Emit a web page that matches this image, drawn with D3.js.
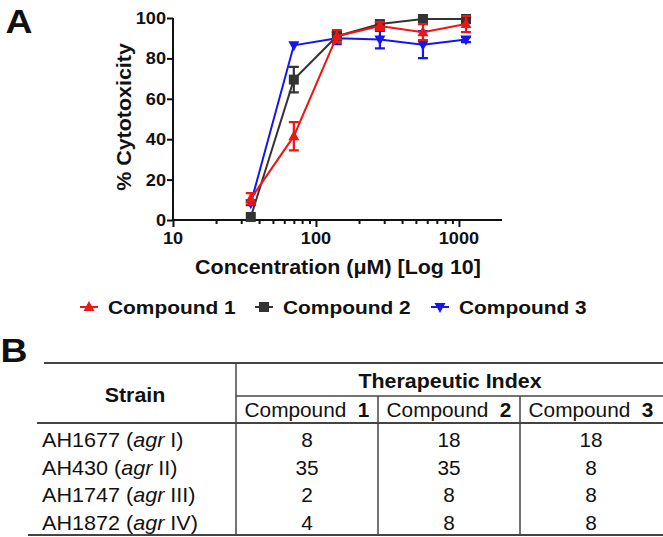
<!DOCTYPE html>
<html>
<head>
<meta charset="utf-8">
<script src="https://cdn.jsdelivr.net/npm/d3@7"></script>
<style>
  html, body { margin: 0; padding: 0; background: #fff; }
  svg { display: block; }
  text { font-family: "Liberation Sans", Arial, sans-serif; fill: #111; }
</style>
</head>
<body>
<svg id="chart" width="663" height="537"></svg>
<script>
// ---------------- DATA ----------------
const concentrations = [35, 70, 140, 280, 560, 1120];
const compound1 = [10.5, 41.5, 91, 96, 93, 97];
const compound1Err = [2.8, 7, 3, 2, 4, 4];
const compound2 = [1.5, 69.5, 91, 97, 99.5, 99.5];
const compound2Err = [0, 6.3, 2, 1, 0.5, 0.5];
const compound3 = [8.3, 86.5, 90, 89.3, 86.8, 89.3];
const compound3Err = [1, 0.5, 3, 4.3, 6.7, 1.2];
const seriesNames = ["Compound 1", "Compound 2", "Compound 3"];
const yTicks = [0, 20, 40, 60, 80, 100];
const xMajorTicks = [10, 100, 1000];
const xMinorTicks = [20, 30, 40, 50, 60, 70, 80, 90, 200, 300, 400, 500, 600, 700, 800, 900];

const strains = ["AH1677", "AH430", "AH1747", "AH1872"];
const agrGroups = ["I", "II", "III", "IV"];
const tiCompound1 = [8, 35, 2, 4];
const tiCompound2 = [18, 35, 8, 8];
const tiCompound3 = [18, 8, 8, 8];
const compoundNumbers = ["1", "2", "3"];

// ---------------- SETUP ----------------
const svg = d3.select("#chart");
const SX = 1.1; // horizontal text stretch seen in the reference
function txt(g, x, y, s, opts = {}) {
  const t = g.append("text")
    .attr("transform", `translate(${x},${y})` + (opts.rotate ? ` rotate(${opts.rotate})` : "") + ` scale(${opts.sx || SX},1)`)
    .attr("text-anchor", opts.anchor || "middle")
    .attr("font-size", opts.size || 17)
    .attr("font-weight", opts.bold ? "bold" : "normal");
  if (s !== null) t.text(s);
  return t;
}

const x = d3.scaleLog().domain([10, 2000]).range([173, 502]);
const y = d3.scaleLinear().domain([0, 100]).range([220, 18]);

const colors = ["#f01515", "#333333", "#1515f0"];
const series = [
  { name: seriesNames[0], vals: compound1, err: compound1Err, color: colors[0], sym: "up" },
  { name: seriesNames[1], vals: compound2, err: compound2Err, color: colors[1], sym: "sq" },
  { name: seriesNames[2], vals: compound3, err: compound3Err, color: colors[2], sym: "down" }
];

function marker(g, cx, cy, sym, color) {
  if (sym === "sq") {
    g.append("rect").attr("x", cx - 5).attr("y", cy - 5).attr("width", 10).attr("height", 10).attr("fill", color);
  } else if (sym === "up") {
    g.append("path").attr("d", `M${cx},${cy - 6} L${cx + 5.5},${cy + 4} L${cx - 5.5},${cy + 4} Z`).attr("fill", color);
  } else {
    g.append("path").attr("d", `M${cx},${cy + 6} L${cx + 5.5},${cy - 4} L${cx - 5.5},${cy - 4} Z`).attr("fill", color);
  }
}

// Panel label A
txt(svg, 19, 33, "A", { size: 34, bold: true });

// Axes
const gx = svg.append("g").attr("transform", "translate(0,220)");
gx.call(d3.axisBottom(x).tickValues(xMajorTicks).tickSize(7).tickFormat(""));
gx.append("g").call(d3.axisBottom(x).tickValues(xMinorTicks).tickSize(4).tickFormat(""));
gx.selectAll(".domain").attr("stroke", "#111").attr("stroke-width", 2).attr("d", `M${x.range()[0]},0H${x.range()[1]}`);
gx.selectAll("line").attr("stroke", "#111").attr("stroke-width", 2);
xMajorTicks.forEach(v => txt(svg, x(v), 244, String(v), { size: 16.5, bold: true }));

const gy = svg.append("g").attr("transform", "translate(173,0)");
gy.call(d3.axisLeft(y).tickValues(yTicks).tickSize(6).tickFormat(""));
gy.selectAll(".domain").attr("stroke", "#111").attr("stroke-width", 2).attr("d", `M0,${y.range()[0]}V${y.range()[1]}`);
gy.selectAll("line").attr("stroke", "#111").attr("stroke-width", 2);
yTicks.forEach(v => txt(svg, 166, y(v) + 6, String(v), { size: 16.5, bold: true, anchor: "end" }));

// Axis titles
txt(svg, 131, 117, "% Cytotoxicity", { size: 19.5, bold: true, rotate: -90 });
const xt = txt(svg, 338, 274, null, { size: 19.5, bold: true });
xt.text("Concentration (\u03BCM) [Log 10]");

// Series (blue, black, red drawing order)
const plot = svg.append("g");
const line = d3.line().x(d => x(d[0])).y(d => y(d[1]));
[series[2], series[1], series[0]].forEach(s => {
  const g = plot.append("g");
  const pts = concentrations.map((c, i) => [c, s.vals[i], s.err[i]]);
  g.append("path").datum(pts).attr("d", line).attr("fill", "none").attr("stroke", s.color).attr("stroke-width", 2);
  pts.forEach(p => {
    if (p[2] > 0.6) {
      const cx = x(p[0]), y1 = y(p[1] + p[2]), y0 = y(p[1] - p[2]);
      g.append("path")
        .attr("d", `M${cx},${y0}V${y1}M${cx - 5},${y0}H${cx + 5}M${cx - 5},${y1}H${cx + 5}`)
        .attr("stroke", s.color).attr("stroke-width", 2.2).attr("fill", "none");
    }
    marker(g, x(p[0]), y(p[1]), s.sym, s.color);
  });
});

// Legend
const legX = [89, 264, 440];
series.forEach((s, i) => {
  const g = svg.append("g");
  g.append("line").attr("x1", legX[i] - 9).attr("x2", legX[i] + 9).attr("y1", 307).attr("y2", 307)
    .attr("stroke", s.color).attr("stroke-width", 2);
  marker(g, legX[i], 307, s.sym, s.color);
  txt(g, legX[i] + 19, 314, s.name, { size: 19, bold: true, anchor: "start" });
});

// ---------------- TABLE (panel B) ----------------
txt(svg, 14, 362, "B", { size: 34, bold: true });
const tg = svg.append("g");
const ln = (x1, y1, x2, y2, w) => tg.append("line").attr("x1", x1).attr("y1", y1).attr("x2", x2).attr("y2", y2)
  .attr("stroke", "#444").attr("stroke-width", w || 1.5);
ln(44, 363, 663, 363, 1.8);
ln(236, 363, 236, 535);
ln(236, 396, 663, 396);
ln(37, 423, 663, 423, 1.8);
ln(378, 396, 378, 535);
ln(520, 396, 520, 535);
ln(28, 535, 663, 535, 1.8);

txt(tg, 135, 402, "Strain", { size: 20, bold: true, sx: 1.07 });
txt(tg, 450, 388, "Therapeutic Index", { size: 20, bold: true, sx: 1.07 });

const colCenters = [307, 449, 591];
compoundNumbers.forEach((n, i) => {
  const t = txt(tg, colCenters[i], 417, null, { size: 20, sx: 1.04 });
  t.append("tspan").text("Compound\u00A0\u00A0");
  t.append("tspan").attr("font-weight", "bold").text(n);
});

const rowY = d3.scalePoint().domain(strains).range([447, 530]);
const tiCols = [tiCompound1, tiCompound2, tiCompound3];
strains.forEach((s, r) => {
  const t = txt(tg, 42, rowY(s), null, { size: 20, anchor: "start", sx: 1.08 });
  t.append("tspan").text(s + "\u00A0(");
  t.append("tspan").attr("font-style", "italic").text("agr");
  t.append("tspan").text("\u00A0" + agrGroups[r] + ")");
  tiCols.forEach((col, c) => {
    txt(tg, colCenters[c], rowY(s), String(col[r]), { size: 20, sx: 1.04 });
  });
});
</script>
</body>
</html>
